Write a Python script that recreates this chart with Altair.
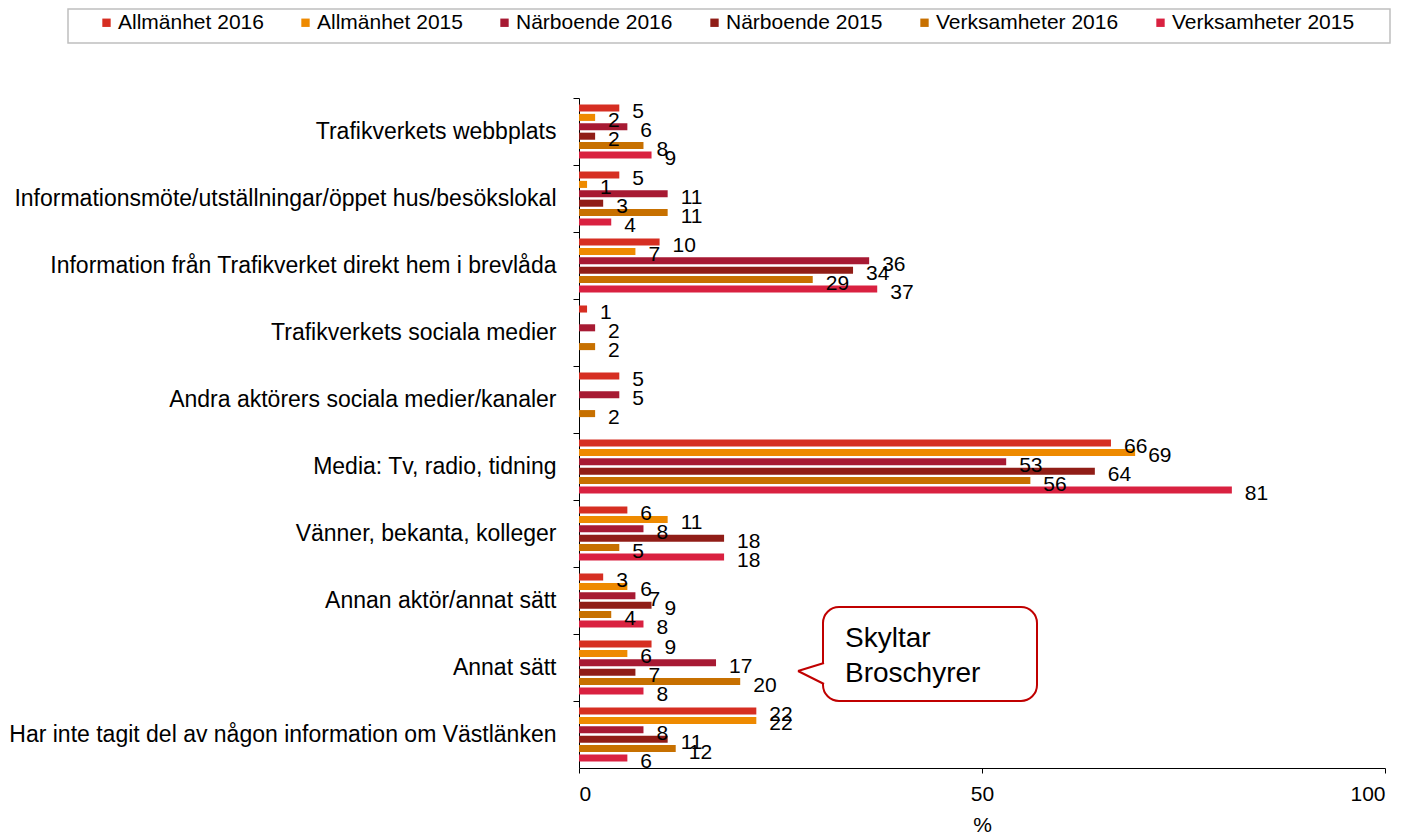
import altair as alt
import pandas as pd

categories = [
    "Trafikverkets webbplats",
    "Informationsmöte/utställningar/öppet hus/besökslokal",
    "Information från Trafikverket direkt hem i brevlåda",
    "Trafikverkets sociala medier",
    "Andra aktörers sociala medier/kanaler",
    "Media: Tv, radio, tidning",
    "Vänner, bekanta, kolleger",
    "Annan aktör/annat sätt",
    "Annat sätt",
    "Har inte tagit del av någon information om Västlänken",
]
series = ["Allmänhet 2016", "Allmänhet 2015", "Närboende 2016",
          "Närboende 2015", "Verksamheter 2016", "Verksamheter 2015"]
colors = ["#D62E22", "#EE8A00", "#A71A33", "#901D17", "#C77000", "#D92140"]

allm_2016 = [5, 5, 10, 1, 5, 66, 6, 3, 9, 22]
allm_2015 = [2, 1, 7, None, None, 69, 11, 6, 6, 22]
narb_2016 = [6, 11, 36, 2, 5, 53, 8, 7, 17, 8]
narb_2015 = [2, 3, 34, None, None, 64, 18, 9, 7, 11]
verk_2016 = [8, 11, 29, 2, 2, 56, 5, 4, 20, 12]
verk_2015 = [9, 4, 37, None, None, 81, 18, 8, 8, 6]
x_ticks = [0, 50, 100]
note_lines = ["Skyltar", "Broschyrer"]

rows = []
for s, vals in zip(series, [allm_2016, allm_2015, narb_2016, narb_2015, verk_2016, verk_2015]):
    for c, v in zip(categories, vals):
        if v is not None:
            rows.append({"category": c, "series": s, "value": v})
df = pd.DataFrame(rows)

FONT = "Liberation Sans"

y_enc = alt.Y("category:N", sort=categories,
              scale=alt.Scale(domain=categories, paddingInner=0, paddingOuter=0),
              axis=alt.Axis(title=None, bandPosition=0, labelFontSize=23, labelColor="black",
                            labelPadding=17, tickSize=6, tickColor="black", domainColor="black",
                            labelLimit=800, labelFont=FONT))
yoff_enc = alt.YOffset("series:N", sort=series,
                       scale=alt.Scale(domain=series, paddingInner=0.25, paddingOuter=0.69))
x_enc = alt.X("value:Q", scale=alt.Scale(domain=[0, 100]),
              axis=alt.Axis(values=x_ticks, grid=False, title="%", titleFontWeight="normal",
                            titleFontSize=21, labelFontSize=21, labelColor="black",
                            titleColor="black", tickColor="black", domainColor="black",
                            tickSize=5, labelPadding=10, titlePadding=10,
                            labelFont=FONT, titleFont=FONT))
color_enc = alt.Color("series:N", sort=series,
                      scale=alt.Scale(domain=series, range=colors),
                      legend=alt.Legend(orient="none", legendX=-483, legendY=-86,
                                        direction="horizontal", title=None, labelFontSize=21,
                                        labelFont=FONT, labelColor="black",
                                        symbolType="square", symbolSize=70,
                                        columnPadding=31, labelOffset=1, symbolStrokeWidth=0,
                                        labelLimit=400, padding=0))

bars = alt.Chart(df).mark_bar().encode(y=y_enc, yOffset=yoff_enc, x=x_enc, color=color_enc)
labels = alt.Chart(df).mark_text(align="left", baseline="middle", dx=13, dy=4,
                                 fontSize=21, font=FONT, color="black").encode(
    y=y_enc, yOffset=yoff_enc, x=x_enc, text="value:Q")

one = pd.DataFrame({"k": [0]})
legend_box = alt.Chart(one).mark_rect(fill="white", stroke="#BFBFBF", strokeWidth=1.5).encode(
    x=alt.value(-511), x2=alt.value(811), y=alt.value(-89), y2=alt.value(-55))
note_box = alt.Chart(one).mark_rect(fill="white", stroke="#C00000", strokeWidth=2,
                                    cornerRadius=16).encode(
    x=alt.value(244), x2=alt.value(458), y=alt.value(509), y2=alt.value(603))
gap = alt.Chart(one).mark_rule(color="white", strokeWidth=4).encode(
    x=alt.value(244), x2=alt.value(244), y=alt.value(566), y2=alt.value(585))
ptr1 = alt.Chart(one).mark_rule(color="#C00000", strokeWidth=2).encode(
    x=alt.value(219), x2=alt.value(245), y=alt.value(573), y2=alt.value(565))
ptr2 = alt.Chart(one).mark_rule(color="#C00000", strokeWidth=2).encode(
    x=alt.value(219), x2=alt.value(245), y=alt.value(573), y2=alt.value(586))
note_text = alt.Chart(one).mark_text(text=note_lines, align="left", baseline="middle",
                                     fontSize=28, font=FONT, lineHeight=35,
                                     color="black").encode(
    x=alt.value(266), y=alt.value(541))

chart = alt.layer(legend_box, bars, labels, note_box, gap, ptr1, ptr2, note_text).properties(
    width=806, height=670,
    padding={"left": 0, "top": 0, "right": 5, "bottom": 0},
).configure(font=FONT).configure_view(stroke=None)

chart.save("out.html", embed_options={"renderer": "svg", "actions": False})
